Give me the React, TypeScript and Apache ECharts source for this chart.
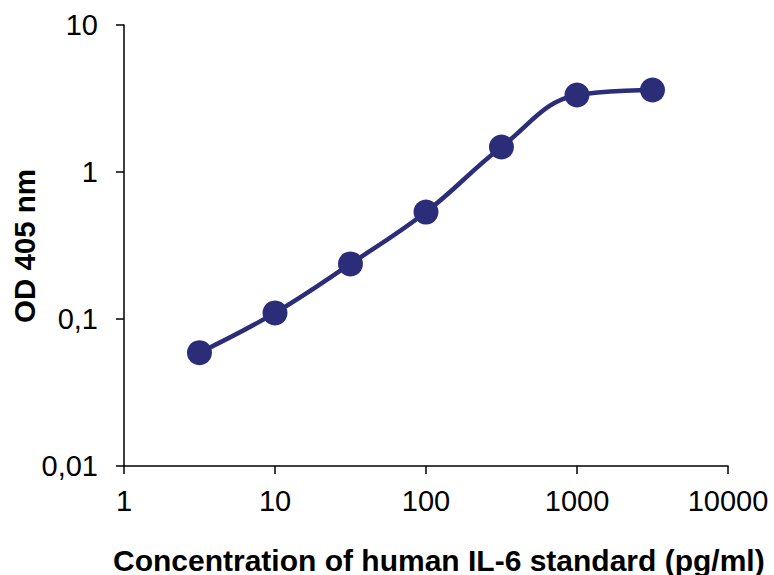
import React, { useEffect, useRef } from "react";
import * as echarts from "echarts";

const concentrations = [3.16, 10, 31.6, 100, 316, 1000, 3162];
const odValues = [0.059, 0.11, 0.237, 0.534, 1.48, 3.34, 3.61];
const yTickLabels: Record<string, string> = { "0.01": "0,01", "0.1": "0,1", "1": "1", "10": "10" };
const xTickLabels: Record<string, string> = { "1": "1", "10": "10", "100": "100", "1000": "1000", "10000": "10000" };
const xTitle = "Concentration of human IL-6 standard (pg/ml)";
const yTitle = "OD 405 nm";

export default function App() {
  const ref = useRef<HTMLDivElement>(null);
  useEffect(() => {
    document.body.style.margin = "0";
    const chart = echarts.init(ref.current!, null, { renderer: "svg" });
    const font = "Liberation Sans, Arial, sans-serif";
    chart.setOption({
      animation: false,
      grid: { left: 124, right: 46, top: 25, bottom: 109 },
      xAxis: {
        type: "log",
        logBase: 10,
        min: 1,
        max: 10000,
        axisLine: { lineStyle: { color: "#000", width: 1.5 } },
        axisTick: { show: true, length: 8, lineStyle: { color: "#000", width: 1.5 } },
        axisLabel: {
          color: "#000",
          fontSize: 29,
          fontFamily: font,
          margin: 20,
          formatter: (v: number) => {
            const key = String(Math.round(v));
            return xTickLabels[key] ?? key;
          },
        },
        splitLine: { show: false },
        minorTick: { show: false },
      },
      yAxis: {
        type: "log",
        logBase: 10,
        min: 0.01,
        max: 10,
        axisLine: { show: true, lineStyle: { color: "#000", width: 1.5 } },
        axisTick: { show: true, length: 8, lineStyle: { color: "#000", width: 1.5 } },
        axisLabel: {
          color: "#000",
          fontSize: 29,
          fontFamily: font,
          margin: 26,
          formatter: (v: number) => {
            const key = String(Number(v.toPrecision(3)));
            return yTickLabels[key] ?? String(v).replace(".", ",");
          },
        },
        splitLine: { show: false },
      },
      graphic: [
        {
          type: "text",
          left: 113,
          top: 545,
          style: { text: xTitle, fontSize: 30, fontWeight: "bold", fontFamily: font, fill: "#000" },
        },
        {
          type: "text",
          x: 9,
          y: 246,
          rotation: Math.PI / 2,
          style: {
            text: yTitle,
            fontSize: 29.5,
            fontWeight: "bold",
            fontFamily: font,
            fill: "#000",
            align: "center",
            verticalAlign: "top",
          },
        },
      ],
      series: [
        {
          type: "line",
          data: concentrations.map((c, i) => [c, odValues[i]]),
          smooth: 0.4,
          symbol: "circle",
          symbolSize: 25,
          itemStyle: { color: "#2b2d78" },
          lineStyle: { color: "#2b2d78", width: 4.5 },
        },
      ],
    });
    return () => chart.dispose();
  }, []);
  return <div ref={ref} style={{ width: 774, height: 575 }} />;
}
